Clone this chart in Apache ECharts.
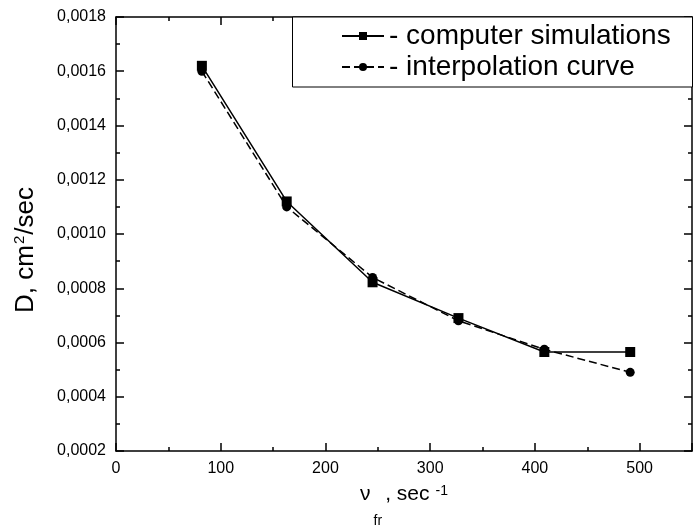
<!DOCTYPE html>
<html>
<head>
<meta charset="utf-8">
<script src="https://cdn.jsdelivr.net/npm/echarts@6/dist/echarts.min.js"></script>
<style>html,body{margin:0;padding:0;background:#fff}#c{width:694px;height:526px}</style>
</head>
<body>
<div id="c"></div>
<script>
const xValues = [82, 163, 245, 327, 409, 491];
const simValues = [0.00162, 0.00112, 0.000822, 0.00069, 0.000565, 0.000565];
const interpValues = [0.0016, 0.0011, 0.00084, 0.00068, 0.000575, 0.00049];
const seriesNames = ['computer simulations', 'interpolation curve'];
const xTicks = [0, 100, 200, 300, 400, 500];
const yTicks = [0.0002, 0.0004, 0.0006, 0.0008, 0.0010, 0.0012, 0.0014, 0.0016, 0.0018];

const FONT = 'Liberation Sans, Arial, sans-serif';
const chart = echarts.init(document.getElementById('c'), null, {renderer: 'canvas'});
const axisCommon = {
  axisLine: {show: true, onZero: false, lineStyle: {color: '#000', width: 1.5}},
  axisTick: {show: true, inside: true, length: 8, lineStyle: {color: '#000', width: 1.5}},
  minorTick: {show: true, splitNumber: 2, length: 4, lineStyle: {color: '#000', width: 1.5}},
  splitLine: {show: false},
  minorSplitLine: {show: false}
};
const xMin = xTicks[0], xMax = 550, xInt = xTicks[1] - xTicks[0];
const yMin = yTicks[0], yMax = yTicks[yTicks.length - 1], yInt = 0.0002;

chart.setOption({
  animation: false,
  backgroundColor: '#fff',
  textStyle: {fontFamily: FONT},
  grid: {left: 116, right: 2, top: 17, bottom: 75, containLabel: false, outerBoundsMode: 'none'},
  graphic: [{
    type: 'rect', z: 5,
    shape: {x: 292.5, y: 17, width: 400, height: 70},
    style: {fill: '#fff', stroke: '#000', lineWidth: 1}
  }],
  legend: {
    orient: 'vertical',
    left: 292, top: 17,
    z: 10,
    padding: [5, 0, 5, 49],
    itemWidth: 42, itemHeight: 10, itemGap: 3,
    textStyle: {fontFamily: FONT, fontSize: 28, lineHeight: 28, color: '#000'},
    formatter: n => '- ' + n,
    data: seriesNames
  },
  xAxis: [
    Object.assign({}, axisCommon, {
      type: 'value', min: xMin, max: xMax, interval: xInt, position: 'bottom',
      axisLabel: {show: true, color: '#000', fontSize: 16, fontFamily: FONT, margin: 10, showMaxLabel: false},
      name: '{n|ν}{s|fr}{a|, sec}{p|-1}',
      nameLocation: 'middle', nameGap: 33,
      nameTextStyle: {
        rich: {
          n: {fontSize: 21, fontFamily: FONT, color: '#000', lineHeight: 22, verticalAlign: 'top', padding: [0, 3, 0, 0]},
          s: {fontSize: 14, fontFamily: FONT, color: '#000', lineHeight: 14, verticalAlign: 'top', padding: [30, 0, 0, 0]},
          a: {fontSize: 21, fontFamily: FONT, color: '#000', lineHeight: 22, verticalAlign: 'top', padding: [0, 0, 0, 3]},
          p: {fontSize: 14, fontFamily: FONT, color: '#000', lineHeight: 14, verticalAlign: 'top', padding: [0, 0, 0, 6]}
        }
      }
    }),
    Object.assign({}, axisCommon, {
      type: 'value', min: xMin, max: xMax, interval: xInt, position: 'top',
      axisLabel: {show: false}
    })
  ],
  yAxis: [
    Object.assign({}, axisCommon, {
      type: 'value', min: yMin, max: yMax, interval: yInt, position: 'left',
      axisLabel: {show: true, color: '#000', fontSize: 16, fontFamily: FONT, margin: 10,
        formatter: v => v.toFixed(4).replace('.', ',')},
      name: '{a|D, cm}{p|2}{a|/sec}',
      nameLocation: 'middle', nameGap: 75, nameRotate: 90,
      nameTextStyle: {
        padding: [0, 32, 0, 0],
        rich: {
          a: {fontSize: 26, fontFamily: FONT, color: '#000', lineHeight: 30},
          p: {fontSize: 15, fontFamily: FONT, color: '#000', lineHeight: 15, verticalAlign: 'top', padding: [1, 1, 0, 1]}
        }
      }
    }),
    Object.assign({}, axisCommon, {
      type: 'value', min: yMin, max: yMax, interval: yInt, position: 'right',
      axisLabel: {show: false}
    })
  ],
  series: [
    {
      name: seriesNames[0], type: 'line',
      data: xValues.map((x, i) => [x, simValues[i]]),
      symbol: 'rect', symbolSize: 10,
      lineStyle: {color: '#000', width: 1.5, type: 'solid'},
      itemStyle: {color: '#000'},
      z: 3
    },
    {
      name: seriesNames[1], type: 'line',
      data: xValues.map((x, i) => [x, interpValues[i]]),
      symbol: 'circle', symbolSize: 9,
      lineStyle: {color: '#000', width: 1.5, type: [8, 4]},
      itemStyle: {color: '#000'},
      z: 2
    }
  ]
});
</script>
</body>
</html>
